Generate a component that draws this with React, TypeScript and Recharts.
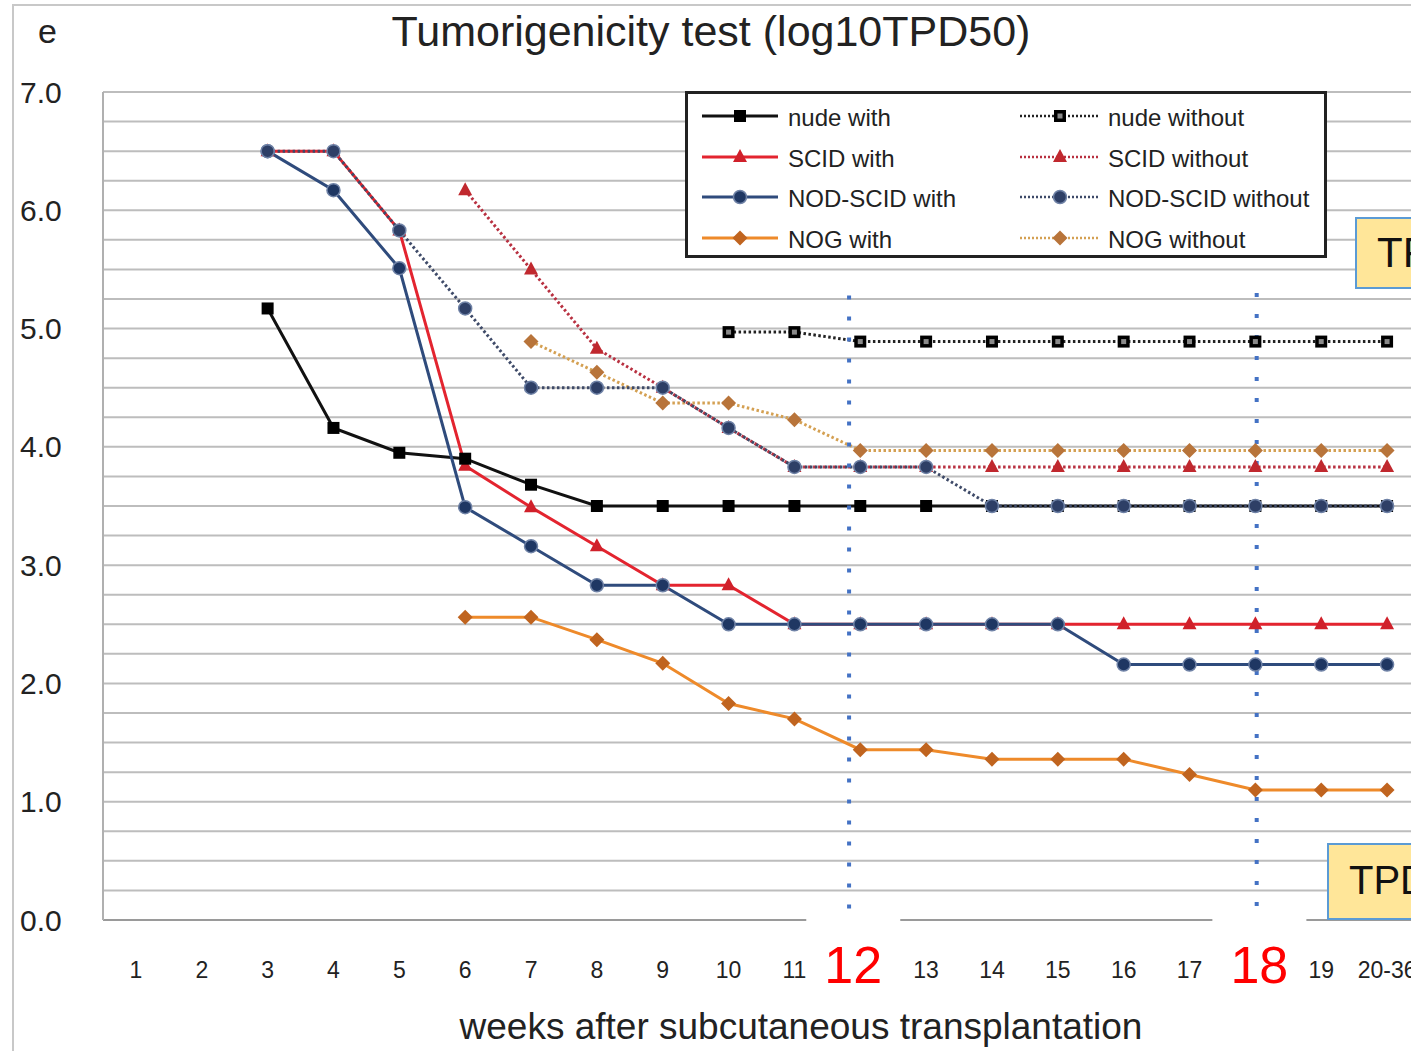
import { LineChart, Line, XAxis, YAxis, CartesianGrid, ReferenceLine } from 'recharts';

const weeks = [1, 2, 3, 4, 5, 6, 7, 8, 9, 10, 11, 12, 13, 14, 15, 16, 17, 18, 19, 20];
const weekLabels = ['1', '2', '3', '4', '5', '6', '7', '8', '9', '10', '11', '12', '13', '14', '15', '16', '17', '18', '19', '20-36'];
const highlightWeeks = [12, 18];
const yTicks = [0, 0.25, 0.5, 0.75, 1, 1.25, 1.5, 1.75, 2, 2.25, 2.5, 2.75, 3, 3.25, 3.5, 3.75, 4, 4.25, 4.5, 4.75, 5, 5.25, 5.5, 5.75, 6, 6.25, 6.5, 6.75, 7];

const nudeWith = [null, null, 5.17, 4.16, 3.95, 3.9, 3.68, 3.5, 3.5, 3.5, 3.5, 3.5, 3.5, 3.5, 3.5, 3.5, 3.5, 3.5, 3.5, 3.5];
const nudeWithout = [null, null, null, null, null, null, null, null, null, 4.97, 4.97, 4.89, 4.89, 4.89, 4.89, 4.89, 4.89, 4.89, 4.89, 4.89];
const scidWith = [null, null, 6.5, 6.5, 5.83, 3.84, 3.49, 3.16, 2.83, 2.83, 2.5, 2.5, 2.5, 2.5, 2.5, 2.5, 2.5, 2.5, 2.5, 2.5];
const scidWithout = [null, null, null, null, null, 6.17, 5.5, 4.83, 4.5, 4.16, 3.83, 3.83, 3.83, 3.83, 3.83, 3.83, 3.83, 3.83, 3.83, 3.83];
const nodScidWith = [null, null, 6.5, 6.17, 5.51, 3.49, 3.16, 2.83, 2.83, 2.5, 2.5, 2.5, 2.5, 2.5, 2.5, 2.16, 2.16, 2.16, 2.16, 2.16];
const nodScidWithout = [null, null, 6.5, 6.5, 5.83, 5.17, 4.5, 4.5, 4.5, 4.16, 3.83, 3.83, 3.83, 3.5, 3.5, 3.5, 3.5, 3.5, 3.5, 3.5];
const nogWith = [null, null, null, null, null, 2.56, 2.56, 2.37, 2.17, 1.83, 1.7, 1.44, 1.44, 1.36, 1.36, 1.36, 1.23, 1.1, 1.1, 1.1];
const nogWithout = [null, null, null, null, null, null, 4.89, 4.63, 4.37, 4.37, 4.23, 3.97, 3.97, 3.97, 3.97, 3.97, 3.97, 3.97, 3.97, 3.97];

// dotted week-12 / week-18 markers (drawn slightly off the tick, as in the figure)
const refLines = [
  { x: 11.83, top: 5.28 },
  { x: 18.02, top: 5.3 },
];

const data = weeks.map((w, i) => ({
  week: w,
  nudeWith: nudeWith[i],
  nudeWithout: nudeWithout[i],
  scidWith: scidWith[i],
  scidWithout: scidWithout[i],
  nodScidWith: nodScidWith[i],
  nodScidWithout: nodScidWithout[i],
  nogWith: nogWith[i],
  nogWithout: nogWithout[i],
}));

type Shape = 'square' | 'openSquare' | 'triangle' | 'circle' | 'diamond';

interface Series {
  key: string;
  name: string;
  line: string;
  marker: string;
  shape: Shape;
  dotted: boolean;
}

const series: Series[] = [
  { key: 'nudeWith', name: 'nude with', line: '#111111', marker: '#000000', shape: 'square', dotted: false },
  { key: 'scidWith', name: 'SCID with', line: '#E3242F', marker: '#D0202A', shape: 'triangle', dotted: false },
  { key: 'nodScidWith', name: 'NOD-SCID with', line: '#2F4B7C', marker: '#1F3763', shape: 'circle', dotted: false },
  { key: 'nogWith', name: 'NOG with', line: '#EE8A2A', marker: '#C0641F', shape: 'diamond', dotted: false },
  { key: 'nudeWithout', name: 'nude without', line: '#222222', marker: '#000000', shape: 'openSquare', dotted: true },
  { key: 'scidWithout', name: 'SCID without', line: '#B83040', marker: '#C0282E', shape: 'triangle', dotted: true },
  { key: 'nodScidWithout', name: 'NOD-SCID without', line: '#3E4A68', marker: '#2E3F66', shape: 'circle', dotted: true },
  { key: 'nogWithout', name: 'NOG without', line: '#D4A052', marker: '#B8743A', shape: 'diamond', dotted: true },
];

// paint order seen in the figure
const drawOrder = ['scidWithout', 'scidWith', 'nudeWith', 'nodScidWith', 'nogWith', 'nogWithout', 'nodScidWithout', 'nudeWithout'];

const FONT = '"Liberation Sans", Arial, sans-serif';

function marker(shape: Shape, cx: number, cy: number, color: string, key?: string | number) {
  switch (shape) {
    case 'square':
      return <rect key={key} x={cx - 6} y={cy - 6} width={12} height={12} fill={color} />;
    case 'openSquare':
      return (
        <g key={key}>
          <rect x={cx - 6} y={cy - 6} width={12} height={12} fill={color} />
          <rect x={cx - 2.5} y={cy - 2.5} width={5} height={5} fill="#8a8a8a" />
        </g>
      );
    case 'triangle':
      return <polygon key={key} points={`${cx},${cy - 8} ${cx + 7},${cy + 5} ${cx - 7},${cy + 5}`} fill={color} />;
    case 'circle':
      return <circle key={key} cx={cx} cy={cy} r={6.5} fill={color} stroke="#6f82a6" strokeWidth={1.5} />;
    case 'diamond':
    default:
      return <polygon key={key} points={`${cx},${cy - 7.5} ${cx + 7.5},${cy} ${cx},${cy + 7.5} ${cx - 7.5},${cy}`} fill={color} />;
  }
}

function makeDot(s: Series) {
  return (props: any) => {
    const { cx, cy, index, value } = props;
    if (cx == null || cy == null || value == null) return <g key={`${s.key}-${index}`} />;
    return marker(s.shape, cx, cy, s.marker, `${s.key}-${index}`);
  };
}

function XTick(props: any) {
  const { x, y, payload } = props;
  const label = weekLabels[payload.value - 1];
  if (highlightWeeks.includes(payload.value)) {
    const dx = payload.value === 12 ? -7 : 4;
    return (
      <g>
        <rect x={x + dx - 47} y={y - 3} width={94} height={85} fill="#ffffff" />
        <text x={x + dx} y={y + 45} textAnchor="middle" dominantBaseline="central" fill="#FF0000" fontSize={52} fontFamily={FONT}>
          {label}
        </text>
      </g>
    );
  }
  return (
    <text x={x} y={y + 50} textAnchor="middle" dominantBaseline="central" fill="#222" fontSize={23} fontFamily={FONT}>
      {label}
    </text>
  );
}

function YTick(props: any) {
  const { y, payload } = props;
  if (!Number.isInteger(payload.value)) return <g />;
  return (
    <text x={20} y={y} textAnchor="start" dominantBaseline="central" fill="#222" fontSize={30} fontFamily={FONT}>
      {payload.value.toFixed(1)}
    </text>
  );
}

function LegendBox() {
  const rows = [25, 66, 106, 147];
  const left = series.filter((s) => !s.dotted);
  const right = series.filter((s) => s.dotted);
  return (
    <svg width={642} height={167} style={{ position: 'absolute', left: 685, top: 91 }}>
      <rect x={1.5} y={1.5} width={639} height={164} fill="#ffffff" stroke="#222" strokeWidth={3} />
      {left.map((s, i) => (
        <g key={s.key}>
          <line x1={17} x2={93} y1={rows[i]} y2={rows[i]} stroke={s.line} strokeWidth={3} />
          {marker(s.shape, 55, rows[i], s.marker)}
          <text x={103} y={rows[i] + 1} dominantBaseline="central" fontSize={24} fill="#222" fontFamily={FONT}>
            {s.name}
          </text>
        </g>
      ))}
      {right.map((s, i) => (
        <g key={s.key}>
          <line x1={335} x2={415} y1={rows[i]} y2={rows[i]} stroke={s.line} strokeWidth={2.5} strokeDasharray="2 2" />
          {marker(s.shape, 375, rows[i], s.marker)}
          <text x={423} y={rows[i] + 1} dominantBaseline="central" fontSize={24} fill="#222" fontFamily={FONT}>
            {s.name}
          </text>
        </g>
      ))}
    </svg>
  );
}

export default function App() {
  return (
    <div style={{ position: 'absolute', left: 0, top: 0, width: 1411, height: 1051, overflow: 'hidden', background: '#fff', fontFamily: FONT }}>
      <div style={{ position: 'absolute', left: 12, top: 4, width: 1420, height: 1060, borderLeft: '2px solid #c8c8c8', borderTop: '2px solid #c8c8c8' }} />
      <div style={{ position: 'absolute', left: 38, top: 12, fontSize: 34, color: '#222' }}>e</div>
      <div style={{ position: 'absolute', left: 0, width: 1422, top: 7, textAlign: 'center', fontSize: 43, color: '#222' }}>
        Tumorigenicity test (log10TPD50)
      </div>
      <div style={{ position: 'absolute', left: 0, top: 0 }}>
        <LineChart width={1440} height={1051} data={data} margin={{ top: 92, right: 20, bottom: 0, left: 0 }}>
          <CartesianGrid vertical={false} stroke="#bdbdbd" strokeWidth={2} />
          <XAxis
            dataKey="week"
            type="number"
            domain={[0.5, 20.5]}
            ticks={weeks}
            interval={0}
            height={131}
            tickSize={0}
            tickMargin={0}
            tickLine={false}
            axisLine={{ stroke: '#9a9a9a', strokeWidth: 2 }}
            tick={<XTick />}
          />
          <YAxis
            domain={[0, 7]}
            ticks={yTicks}
            interval={0}
            width={103}
            tickLine={false}
            axisLine={{ stroke: '#b0b0b0', strokeWidth: 2 }}
            tick={<YTick />}
          />
          {drawOrder.map((k) => {
            const s = series.find((t) => t.key === k)!;
            return (
              <Line
                key={s.key}
                dataKey={s.key}
                name={s.name}
                type="linear"
                stroke={s.line}
                strokeWidth={3}
                strokeDasharray={s.dotted ? '2.5 2.5' : undefined}
                dot={makeDot(s)}
                activeDot={false}
                connectNulls={false}
                isAnimationActive={false}
              />
            );
          })}
          {refLines.map((r) => (
            <ReferenceLine
              key={r.x}
              segment={[
                { x: r.x, y: r.top },
                { x: r.x, y: 0.04 },
              ]}
              stroke="#4472C4"
              strokeWidth={4}
              strokeDasharray="4 17"
            />
          ))}
        </LineChart>
      </div>
      <LegendBox />
      <div
        style={{
          position: 'absolute', left: 1355, top: 217, width: 120, height: 72, boxSizing: 'border-box',
          background: '#FFE699', border: '2px solid #5B9BD5', fontSize: 42, lineHeight: '68px', paddingLeft: 20, color: '#111',
        }}
      >
        TPD50
      </div>
      <div
        style={{
          position: 'absolute', left: 1327, top: 843, width: 140, height: 77, boxSizing: 'border-box',
          background: '#FFE699', border: '2px solid #5B9BD5', fontSize: 40, lineHeight: '70px', paddingLeft: 20, color: '#111',
        }}
      >
        TPD50
      </div>
      <div style={{ position: 'absolute', left: 0, width: 1602, top: 1006, textAlign: 'center', fontSize: 37, color: '#222' }}>
        weeks after subcutaneous transplantation
      </div>
    </div>
  );
}
